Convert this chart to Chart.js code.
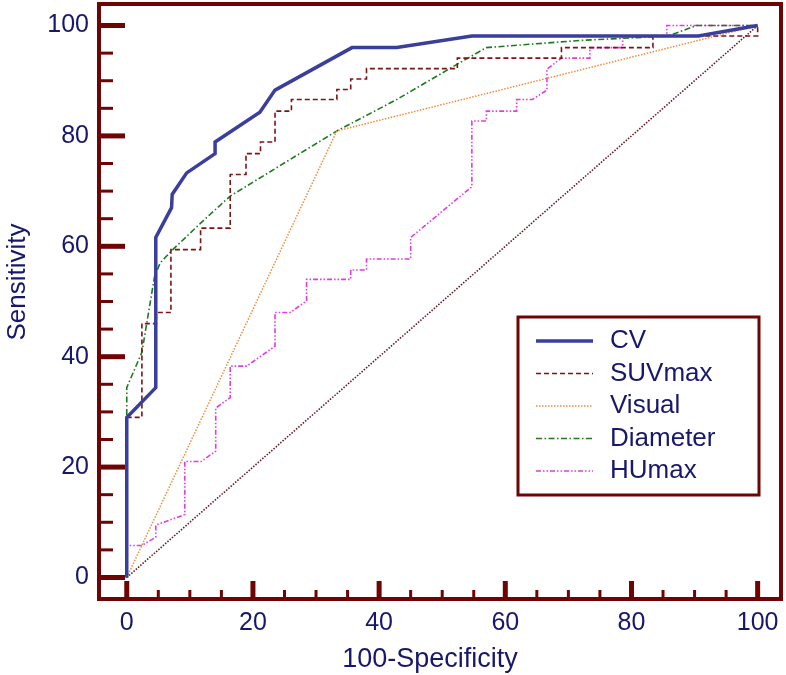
<!DOCTYPE html>
<html lang="en">
<head>
    <meta charset="UTF-8">
    <title>ROC curves</title>
    <script src="https://cdn.jsdelivr.net/npm/chart.js"></script>
    <style>
        html, body {
            margin: 0;
            padding: 0;
            background: #ffffff;
        }

        #wrap {
            width: 786px;
            height: 675px;
            position: relative;
        }
    </style>
</head>
<body>
    <div id="wrap">
        <canvas id="chart" width="786" height="675"></canvas>
    </div>

    <script>
        // values (x = 100-Specificity, y = Sensitivity)
        const cvX = [0, 0, 4.6, 4.6, 7.1, 7.2, 9.5, 14, 14, 21.1, 23.5, 35.7, 42.8, 54.7, 90.6, 100];
        const cvY = [0, 29, 34.4, 61.6, 67, 69.4, 73.3, 76.8, 78.9, 84.3, 88.3, 96, 96, 98.1, 98.1, 100];

        const suvX = [0, 0, 2.4, 2.4, 4.7, 4.7, 7, 7, 11.7, 11.7, 16.4, 16.4, 18.9, 18.9, 21.2, 21.2, 23.5, 23.5, 26.1, 26.1, 33.3, 33.3, 35.5, 35.5, 38, 38, 52.4, 52.4, 68.9, 68.9, 83.4, 83.4, 100, 100];
        const suvY = [0, 29, 29, 46, 46, 48, 48, 59.4, 59.4, 63.3, 63.3, 73, 73, 76.8, 76.8, 78.9, 78.9, 84.5, 84.5, 86.6, 86.6, 88.4, 88.4, 90.3, 90.3, 92.2, 92.2, 94.1, 94.1, 96, 96, 98.1, 98.1, 100];

        const visualX = [0, 33.3, 100];
        const visualY = [0, 80.9, 100];

        const diamX = [0, 0, 2.4, 4.4, 5.3, 7.3, 11.8, 16.4, 33.3, 42.8, 52.4, 57, 71.8, 85.8, 90.3, 100];
        const diamY = [0, 34.4, 40.8, 54.5, 57, 59.4, 64.3, 69.1, 80.9, 86.6, 93, 96, 97.3, 98.1, 100, 100];

        const huX = [0, 0, 2.4, 4.6, 4.6, 9.2, 9.2, 11.8, 14.1, 14.1, 16.4, 16.4, 19, 23.5, 23.5, 25.9, 28.5, 28.5, 35.5, 35.5, 38, 38, 45, 45, 54.7, 54.7, 57, 57, 61.8, 61.8, 64.3, 66.6, 66.6, 68.9, 73.4, 73.4, 78.6, 78.6, 85.6, 85.6, 100];
        const huY = [0, 5.8, 5.8, 7.3, 9.5, 11.4, 21, 21, 22.9, 30.7, 32.6, 38.3, 38.3, 41.9, 48, 48, 50.1, 54, 54, 55.7, 55.7, 57.7, 57.7, 61.6, 70.8, 82.7, 82.7, 84.5, 84.5, 86.6, 86.6, 88.3, 92.1, 94.1, 94.1, 96, 96, 98.1, 98.1, 100, 100];

        const refX = [0, 100];
        const refY = [0, 100];

        const tickValues = [0, 20, 40, 60, 80, 100];
        const xTitle = '100-Specificity';
        const yTitle = 'Sensitivity';

        const navy = '#17176b';
        const frameColor = '#6e0404';
        const fontFamily = '"Liberation Sans", Arial, Helvetica, sans-serif';

        function pts(xs, ys) {
            return xs.map((x, i) => ({ x: x, y: ys[i] }));
        }

        // frame with inward tick marks, placed by the chart's own scales
        const framePlugin = {
            id: 'frame',
            afterDraw(chart) {
                const { ctx, chartArea: a, scales } = chart;
                ctx.save();
                ctx.strokeStyle = frameColor;
                ctx.lineCap = 'butt';
                for (let v = 0; v <= 100; v += 5) {
                    const major = v % 20 === 0;
                    const py = scales.y.getPixelForValue(v);
                    ctx.lineWidth = major ? 5 : 3;
                    ctx.beginPath();
                    ctx.moveTo(a.left, py);
                    ctx.lineTo(a.left + (major ? 26 : 14), py);
                    ctx.stroke();
                    const px = scales.x.getPixelForValue(v);
                    ctx.beginPath();
                    ctx.moveTo(px, a.bottom);
                    ctx.lineTo(px, a.bottom - (major ? 18 : 9));
                    ctx.stroke();
                }
                ctx.lineWidth = 4;
                ctx.strokeRect(a.left, a.top, a.right - a.left, a.bottom - a.top);

                // axis titles, a little off centre like the original
                ctx.fillStyle = navy;
                ctx.font = '27px ' + fontFamily;
                ctx.textAlign = 'center';
                ctx.textBaseline = 'alphabetic';
                ctx.fillText(xTitle, 430, 667);
                ctx.translate(25, 282);
                ctx.rotate(-Math.PI / 2);
                ctx.font = '26px ' + fontFamily;
                ctx.fillText(yTitle, 0, 0);
                ctx.restore();
            }
        };

        // boxed legend inside the plot
        const legendPlugin = {
            id: 'boxLegend',
            afterDraw(chart) {
                const ctx = chart.ctx;
                ctx.save();
                ctx.strokeStyle = frameColor;
                ctx.lineWidth = 3;
                ctx.strokeRect(518, 317, 241, 178);
                let rowY = 341;
                chart.data.datasets.forEach(ds => {
                    if (!ds.inLegend) return;
                    ctx.strokeStyle = ds.borderColor;
                    ctx.lineWidth = ds.borderWidth;
                    ctx.setLineDash(ds.borderDash || []);
                    ctx.beginPath();
                    ctx.moveTo(536, rowY);
                    ctx.lineTo(593, rowY);
                    ctx.stroke();
                    ctx.setLineDash([]);
                    ctx.fillStyle = navy;
                    ctx.font = '26px ' + fontFamily;
                    ctx.textBaseline = 'middle';
                    ctx.textAlign = 'left';
                    ctx.fillText(ds.label, 610, rowY);
                    rowY += 32.5;
                });
                ctx.restore();
            }
        };

        const ctx = document.getElementById('chart').getContext('2d');
        const chart = new Chart(ctx, {
            type: 'scatter',
            data: {
                datasets: [
                    {
                        label: 'CV',
                        data: pts(cvX, cvY),
                        borderColor: '#3a3e9c',
                        borderWidth: 3.5,
                        inLegend: true
                    },
                    {
                        label: 'SUVmax',
                        data: pts(suvX, suvY),
                        borderColor: '#7c1414',
                        borderWidth: 1.6,
                        borderDash: [5, 3],
                        inLegend: true
                    },
                    {
                        label: 'Visual',
                        data: pts(visualX, visualY),
                        borderColor: '#f08c3c',
                        borderWidth: 1.5,
                        borderDash: [1.5, 1.5],
                        inLegend: true
                    },
                    {
                        label: 'Diameter',
                        data: pts(diamX, diamY),
                        borderColor: '#1f7a1f',
                        borderWidth: 1.6,
                        borderDash: [6, 2.5, 1.5, 2.5],
                        inLegend: true
                    },
                    {
                        label: 'HUmax',
                        data: pts(huX, huY),
                        borderColor: '#e03ce0',
                        borderWidth: 1.6,
                        borderDash: [5, 2, 1.5, 2, 1.5, 2],
                        inLegend: true
                    },
                    {
                        label: 'Reference',
                        data: pts(refX, refY),
                        borderColor: '#641c24',
                        borderWidth: 1.6,
                        borderDash: [1.5, 1.5],
                        inLegend: false
                    }
                ]
            },
            options: {
                responsive: false,
                animation: false,
                showLine: true,
                elements: {
                    point: { radius: 0, hoverRadius: 0 },
                    line: { tension: 0, fill: false }
                },
                layout: {
                    padding: { top: 4, right: 5, bottom: 0, left: 0 }
                },
                plugins: {
                    legend: { display: false },
                    tooltip: { enabled: false }
                },
                scales: {
                    x: {
                        type: 'linear',
                        min: -4.4,
                        max: 103.7,
                        grid: { display: false, drawTicks: false },
                        border: { display: false },
                        afterBuildTicks: s => { s.ticks = tickValues.map(v => ({ value: v })); },
                        afterFit: s => { s.height = 76; s.paddingLeft = 0; s.paddingRight = 0; },
                        ticks: {
                            padding: 9,
                            color: navy,
                            maxRotation: 0,
                            font: { family: fontFamily, size: 25 }
                        }
                    },
                    y: {
                        type: 'linear',
                        min: -3.9,
                        max: 103.9,
                        grid: { display: false, drawTicks: false },
                        border: { display: false },
                        afterBuildTicks: s => { s.ticks = tickValues.map(v => ({ value: v })); },
                        afterFit: s => { s.width = 99; s.paddingTop = 0; s.paddingBottom = 0; },
                        ticks: {
                            padding: 10,
                            color: navy,
                            font: { family: fontFamily, size: 25 }
                        }
                    }
                }
            },
            plugins: [framePlugin, legendPlugin]
        });
    </script>
</body>
</html>
